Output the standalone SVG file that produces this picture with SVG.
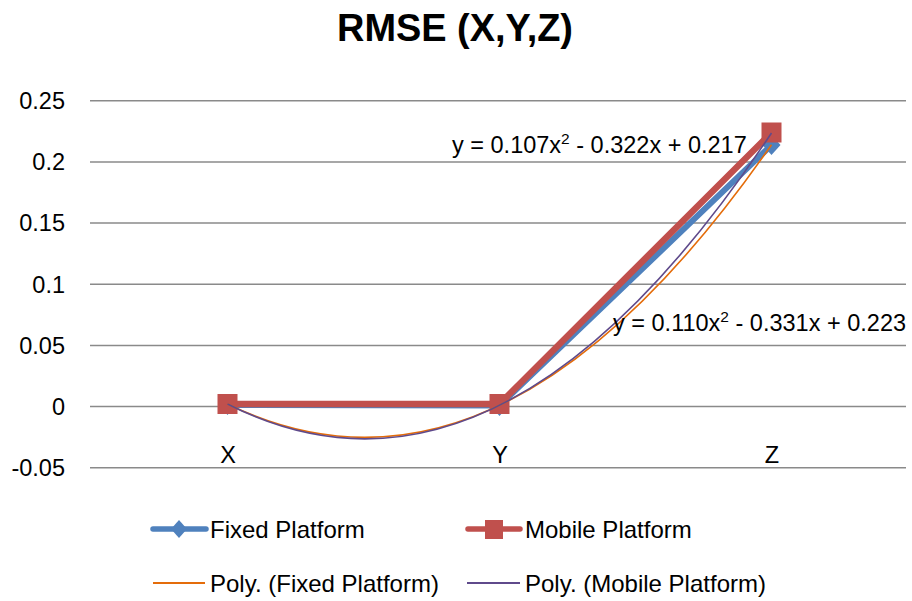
<svg xmlns="http://www.w3.org/2000/svg" width="912" height="601" viewBox="0 0 912 601">
  <style>
    text { font-family: "Liberation Sans", Arial, sans-serif; fill: #000; }
    .title { font-size: 39px; font-weight: bold; text-anchor: middle; }
    .tick { font-size: 23.5px; text-anchor: end; }
    .cat { font-size: 23.5px; text-anchor: middle; }
    .eq { font-size: 23.5px; }
    .leg { font-size: 24px; }
    .grid { stroke: #8a8a8a; stroke-width: 1.5; fill: none; }
    .fixed { stroke: #4f81bd; stroke-width: 6; fill: none; stroke-linejoin: round; stroke-linecap: round; }
    .mobile { stroke: #c0504d; stroke-width: 6.5; fill: none; stroke-linejoin: round; stroke-linecap: round; }
    .polyF { stroke: #e46c0a; stroke-width: 1.6; fill: none; }
    .polyM { stroke: #5f4a8b; stroke-width: 1.6; fill: none; }
  </style>
  <defs>
    <polygon id="diamond" points="0,-10 9,0 0,10 -9,0" fill="#4f81bd"/>
    <rect id="square" x="-10" y="-10" width="20" height="20" fill="#c0504d"/>
  </defs>

  <rect width="912" height="601" fill="#fff"/>

  <text class="title" x="455" y="41" textLength="236" lengthAdjust="spacingAndGlyphs">RMSE (X,Y,Z)</text>

  <!-- value axis gridlines and labels -->
  <g id="gridlines">
    <line class="grid" x1="90" y1="100.7" x2="906" y2="100.7"/>
    <line class="grid" x1="90" y1="161.9" x2="906" y2="161.9"/>
    <line class="grid" x1="90" y1="223" x2="906" y2="223"/>
    <line class="grid" x1="90" y1="284.2" x2="906" y2="284.2"/>
    <line class="grid" x1="90" y1="345.4" x2="906" y2="345.4"/>
    <line class="grid" x1="90" y1="406.5" x2="906" y2="406.5"/>
    <line class="grid" x1="90" y1="467.7" x2="906" y2="467.7"/>
  </g>
  <g id="value-labels">
    <text class="tick" x="65" y="109">0.25</text>
    <text class="tick" x="65" y="170">0.2</text>
    <text class="tick" x="65" y="231">0.15</text>
    <text class="tick" x="65" y="292.5">0.1</text>
    <text class="tick" x="65" y="353.5">0.05</text>
    <text class="tick" x="65" y="414.5">0</text>
    <text class="tick" x="65" y="476">-0.05</text>
  </g>
  <g id="category-labels">
    <text class="cat" x="228" y="463">X</text>
    <text class="cat" x="500" y="463">Y</text>
    <text class="cat" x="772" y="463">Z</text>
  </g>

  <!-- data series and trendlines -->
  <g id="connectors">
    <polyline id="fixed-line" class="fixed" points="227.5,405 499.5,405.5 771.5,145"/>
    <g id="fixed-markers">
      <use href="#diamond" x="227.5" y="405"/>
      <use href="#diamond" x="499.5" y="406"/>
      <use href="#diamond" x="771.5" y="145"/>
    </g>
    <polyline id="mobile-line" class="mobile" points="227.5,404 499.5,404 771.5,132.5"/>
    <g id="mobile-markers">
      <use href="#square" x="227.5" y="404"/>
      <use href="#square" x="499.5" y="404"/>
      <use href="#square" x="771.5" y="132.5"/>
    </g>
    <path id="poly-fixed" class="polyF" d="M227.5,404 Q499.5,536.2 771.5,144.7"/>
    <path id="poly-mobile" class="polyM" d="M227.5,404 Q499.5,542 771.5,133"/>
  </g>

  <!-- trendline equations -->
  <g id="equation-fixed">
    <text class="eq" x="452" y="153">y = 0.107x<tspan font-size="15.5" dy="-9">2</tspan><tspan dy="9"> - 0.322x + 0.217</tspan></text>
  </g>
  <g id="equation-mobile">
    <text class="eq" x="613" y="330.5">y = 0.110x<tspan font-size="15.5" dy="-9">2</tspan><tspan dy="9"> - 0.331x + 0.223</tspan></text>
  </g>

  <!-- legend -->
  <g id="legend-fixed">
    <line x1="153" y1="529" x2="206" y2="529" stroke="#4f81bd" stroke-width="5.5" stroke-linecap="round"/>
    <polygon points="179,520 187,529 179,538 171,529" fill="#4f81bd"/>
    <text class="leg" x="210" y="538">Fixed Platform</text>
  </g>
  <g id="legend-mobile">
    <line x1="468" y1="529" x2="520" y2="529" stroke="#c0504d" stroke-width="5.5" stroke-linecap="round"/>
    <rect x="485" y="520" width="18" height="19" fill="#c0504d"/>
    <text class="leg" x="525" y="538">Mobile Platform</text>
  </g>
  <g id="legend-poly-fixed">
    <line x1="153" y1="583" x2="205" y2="583" stroke="#e46c0a" stroke-width="1.8"/>
    <text class="leg" x="210" y="592">Poly. (Fixed Platform)</text>
  </g>
  <g id="legend-poly-mobile">
    <line x1="467" y1="583" x2="520" y2="583" stroke="#5f4a8b" stroke-width="1.8"/>
    <text class="leg" x="525" y="592">Poly. (Mobile Platform)</text>
  </g>
</svg>
